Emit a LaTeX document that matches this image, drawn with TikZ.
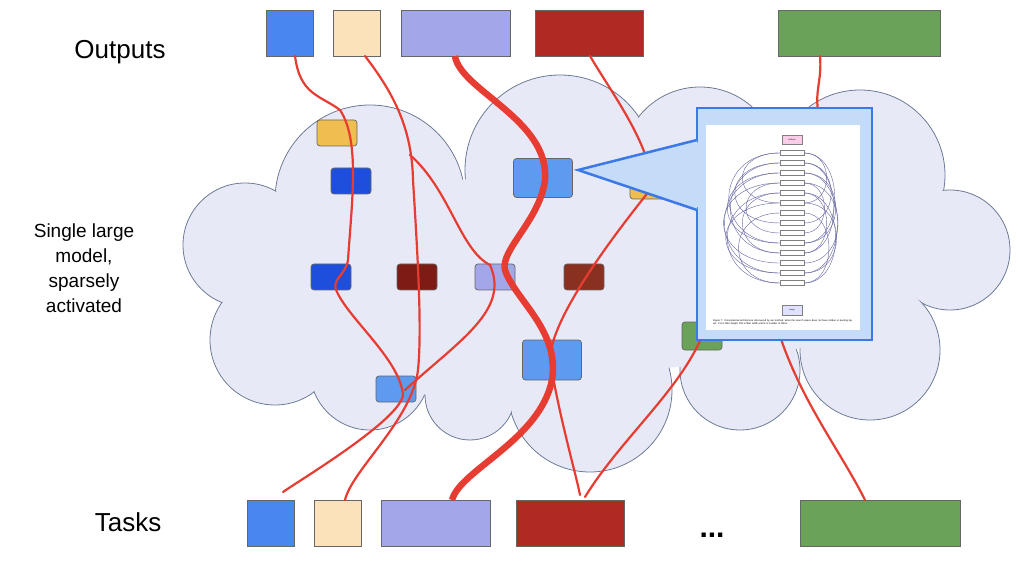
\documentclass[tikz,border=0pt]{standalone}
\usepackage{fontspec}
\setmainfont{Liberation Sans}
\begin{document}
\begin{tikzpicture}[x=1pt,y=-1pt,
  box/.style={draw=black!60,line width=0.6pt,rounded corners=0},
  unit/.style={draw=black!60,line width=0.7pt,rounded corners=3pt},
  path/.style={draw=lred,line width=2.2pt,line cap=round},
  cl/.style={fill=cloudc,draw=cloudl,line width=0.8pt}]
\definecolor{lred}{HTML}{E63C32}
\definecolor{cloudc}{HTML}{E8E9F6}
\definecolor{cloudl}{HTML}{6A7A96}
\definecolor{cb}{HTML}{4A86F0}
\definecolor{cpe}{HTML}{FCE2BA}
\definecolor{cla}{HTML}{A4A6EA}
\definecolor{cre}{HTML}{B02A24}
\definecolor{cgr}{HTML}{69A258}
\definecolor{cyel}{HTML}{F0BE50}
\definecolor{cdb}{HTML}{1E4FDC}
\definecolor{cdr}{HTML}{7C1C14}
\definecolor{cbr}{HTML}{8A3020}
\definecolor{clb}{HTML}{5E9AF0}
\definecolor{calb}{HTML}{C4DCF8}
\definecolor{cblue}{HTML}{3C78E6}
\useasboundingbox (0,0) rectangle (1018,564);
% cloud
\def\lobes{{(370,200)}/95,{(245,245)}/62,{(275,340)}/65,{(370,370)}/60,{(560,170)}/95,{(700,165)}/78,{(860,175)}/85,{(950,250)}/60,{(870,350)}/70,{(590,390)}/82,{(470,395)}/45,{(740,370)}/60}
\foreach \c/\r in \lobes \draw[cl] \c circle (\r);
\fill[cloudc] (600,270) ellipse (320 and 100);
\fill[cloudc] (500,355) circle (40);
\fill[cloudc] (430,365) circle (30);
\foreach \c/\r in \lobes \fill[cloudc] \c circle (\r-1);
% labels
\node (lo) at (120,52) {\fontsize{26}{30}\selectfont Outputs};
\node (lt) at (128,522) {\fontsize{26}{30}\selectfont Tasks};
\node[align=center,font=\fontsize{19}{25}\selectfont] (lm) at (84,268) {Single large\\ model,\\ sparsely\\ activated};
\node (dots) at (712,535) {\fontsize{30}{30}\selectfont\bfseries ...};
% top boxes
\node[box,fill=cb,minimum width=47,minimum height=46,anchor=north west] (o1) at (266,10) {};
\node[box,fill=cpe,minimum width=47,minimum height=46,anchor=north west] (o2) at (333,10) {};
\node[box,fill=cla,minimum width=109,minimum height=46,anchor=north west] (o3) at (401,10) {};
\node[box,fill=cre,minimum width=108,minimum height=46,anchor=north west] (o4) at (535,10) {};
\node[box,fill=cgr,minimum width=162,minimum height=46,anchor=north west] (o5) at (778,10) {};
% bottom boxes
\node[box,fill=cb,minimum width=47,minimum height=46,anchor=north west] (t1) at (247,500) {};
\node[box,fill=cpe,minimum width=47,minimum height=46,anchor=north west] (t2) at (314,500) {};
\node[box,fill=cla,minimum width=109,minimum height=46,anchor=north west] (t3) at (381,500) {};
\node[box,fill=cre,minimum width=108,minimum height=46,anchor=north west] (t4) at (516,500) {};
\node[box,fill=cgr,minimum width=160,minimum height=46,anchor=north west] (t5) at (800,500) {};
% inner units
\node[unit,fill=cyel,minimum width=40,minimum height=26] (u1) at (337,133) {};
\node[unit,fill=cdb,minimum width=40,minimum height=26] (u2) at (351,181) {};
\node[unit,fill=clb,minimum width=59,minimum height=39] (u3) at (543,178) {};
\node[unit,fill=cdb,minimum width=40,minimum height=26] (u4) at (331,277) {};
\node[unit,fill=cdr,minimum width=40,minimum height=26] (u5) at (417,277) {};
\node[unit,fill=cla,minimum width=40,minimum height=26] (u6) at (495,277) {};
\node[unit,fill=cbr,minimum width=40,minimum height=26] (u7) at (584,277) {};
\node[unit,fill=clb,minimum width=59,minimum height=40] (u8) at (552,360) {};
\node[unit,fill=clb,minimum width=40,minimum height=26] (u9) at (396,389) {};
\node[unit,fill=cyel,minimum width=40,minimum height=26] (u10) at (650,186) {};
\node[unit,fill=cgr,minimum width=40,minimum height=28] (u11) at (702,336) {};
% paths
\coordinate (b1) at (410,155);
\draw[path] (295,56) .. controls (300,95) and (320,95) .. (340,110) .. controls (360,140) and (352,200) .. (348,260) .. controls (346,275) and (330,280) .. (337,292) .. controls (350,320) and (400,360) .. (403,395) .. controls (400,420) and (300,480) .. (283,492);
\draw[path] (365,56) .. controls (395,95) and (412,130) .. (413,180) .. controls (418,260) and (422,330) .. (418,370) .. controls (412,420) and (352,470) .. (345,500);
\draw[path] (b1) .. controls (450,190) and (460,250) .. (490,265) .. controls (510,310) and (460,340) .. (405,390);
\draw[path,line width=6.5pt,line cap=butt] (455,56) .. controls (460,90) and (550,120) .. (545,180) .. controls (540,220) and (500,250) .. (505,270) .. controls (515,300) and (560,330) .. (552,380) .. controls (540,440) and (460,470) .. (452,500);
\draw[path] (590,56) .. controls (610,90) and (640,130) .. (650,170);
\draw[path] (650,190) .. controls (610,240) and (550,320) .. (550,360) .. controls (560,420) and (575,470) .. (580,495);
\draw[path] (585,497) .. controls (620,440) and (680,390) .. (702,336);
\draw[path] (820,56) .. controls (822,80) and (815,90) .. (818,110);
\draw[path] (778,330) .. controls (800,400) and (840,450) .. (865,500);
% inset
\coordinate (tip) at (578,170);
\draw[cblue,fill=calb,line width=2.5pt,line join=miter] (697,108) rectangle (872,340);
\draw[cblue,fill=calb,line width=2.5pt] (697,140) -- (tip) -- (697,210);
\fill[calb] (699,142) -- (700,208) -- (604,172) -- cycle;
\node[fill=white,minimum width=154,minimum height=205,anchor=north west,inner sep=0] (paper) at (706,125) {};
\node[fill=magenta!20,draw=gray,minimum width=20,minimum height=9,inner sep=0,font=\fontsize{2}{2}\selectfont] (sm) at (792,140) {Softmax};
\foreach \i in {0,...,13}
  \node[draw=gray,fill=white,minimum width=24,minimum height=5,inner sep=0] (l\i) at (792,153+10*\i) {};
\node[fill=blue!12,draw=gray,minimum width=20,minimum height=10,inner sep=0,font=\fontsize{2}{2}\selectfont] (inp) at (792,310) {Image};
\foreach \a/\b/\w in {0/5/50,1/7/60,2/9/70,3/11/75,4/13/70,1/10/66,3/8/45,5/12/72,0/9/68,2/12/74,6/13/55,4/10/50}{
  \draw[blue!40!black!60,line width=0.4pt] (l\a.west) .. controls +(-\w,0) and +(-\w,0) .. (l\b.west);
  \draw[blue!40!black!60,line width=0.4pt] (l\a.east) .. controls +(\w*0.6,0) and +(\w*0.6,0) .. (l\b.east);}
\node[font=\fontsize{2.5}{3}\selectfont,text width=140,align=left] (cap) at (783,322) {Figure 7: Convolutional architecture discovered by our method, when the search space does not have strides or pooling layers. FH is filter height, FW is filter width and N is number of filters.};
\end{tikzpicture}
\end{document}
